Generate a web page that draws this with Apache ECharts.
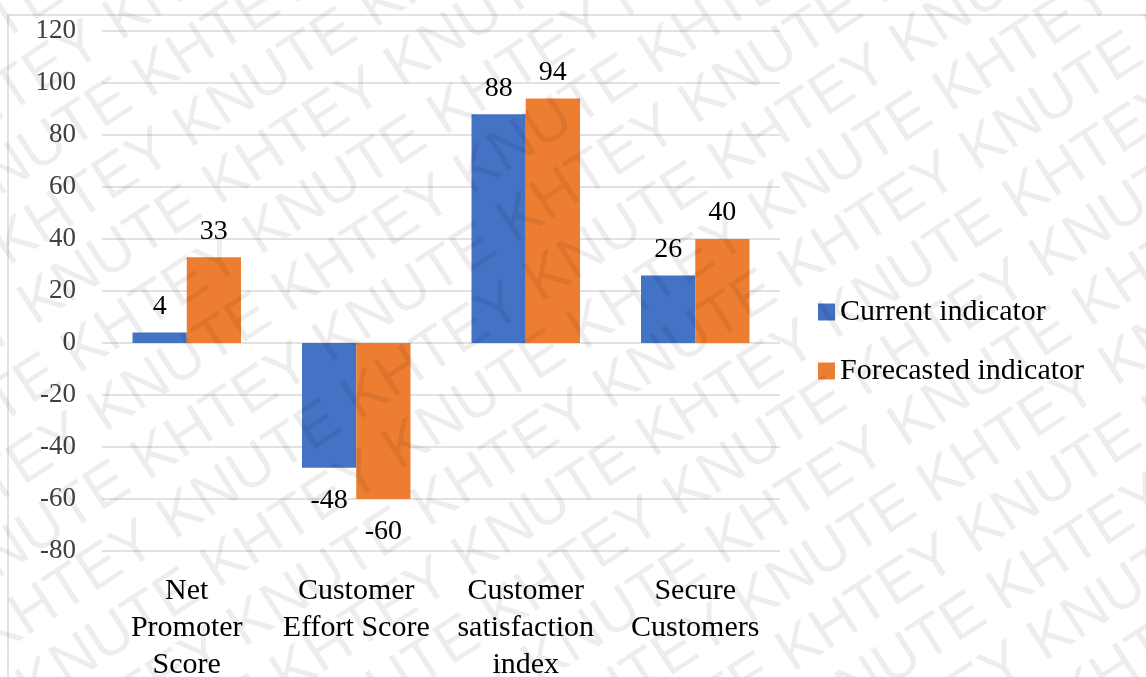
<!DOCTYPE html>
<html>
<head>
<meta charset="utf-8">
<title>Indicators</title>
<script src="https://cdn.jsdelivr.net/npm/echarts@6/dist/echarts.min.js"></script>
<style>
  html, body { margin: 0; padding: 0; background: #fff; }
  #chart { width: 1146px; height: 677px; }
</style>
</head>
<body>
<div id="chart"></div>
<script>
// data
var categories = ['Net\nPromoter\nScore', 'Customer\nEffort Score', 'Customer\nsatisfaction\nindex', 'Secure\nCustomers']
var currentValues = [4, -48, 88, 26]
var forecastValues = [33, -60, 94, 40]
var seriesNames = ['Current indicator', 'Forecasted indicator']
var yTicks = { min: -80, max: 120, step: 20 }

var serif = 'Liberation Serif'

// labels sit past the end of the bar, below it when the value is negative
function withLabels (values) {
  return values.map(function (v) {
    return {
      value: v,
      label: { position: v < 0 ? 'bottom' : 'top', distance: v < 0 ? 19 : 12 }
    }
  })
}

// faint diagonal watermark across the page
function watermark () {
  var els = []
  var ang = 33 * Math.PI / 180
  var dx = Math.cos(ang), dy = -Math.sin(ang) // along the text
  var nx = Math.sin(ang), ny = Math.cos(ang) // across the rows
  var txt = ''
  for (var r = 0; r < 7; r++) { txt += 'KNUTE KHTEY ' }
  for (var k = -12; k <= 12; k++) {
    var shift = (Math.abs(k) % 2) * 210
    els.push({
      type: 'text',
      x: 573 + k * 64 * nx + shift * dx,
      y: 338 + k * 64 * ny + shift * dy,
      rotation: ang,
      silent: true,
      z: 100,
      style: {
        text: txt,
        fill: 'rgba(0,0,0,0.07)',
        font: '60px Liberation Sans',
        align: 'center',
        verticalAlign: 'middle'
      }
    })
  }
  return els
}

var chart = echarts.init(document.getElementById('chart'))

var option = {
  backgroundColor: '#fff',
  animation: false,
  color: ['#4472C4', '#ED7D31'],
  grid: {
    left: 102,
    right: 366,
    top: 31,
    bottom: 126,
    containLabel: false,
    outerBoundsMode: 'none'
  },
  legend: {
    orient: 'vertical',
    left: 813,
    top: 292,
    itemWidth: 17,
    itemHeight: 17,
    itemGap: 29,
    icon: 'rect',
    data: seriesNames,
    textStyle: {
      fontFamily: serif,
      fontSize: 30,
      lineHeight: 30,
      color: '#000'
    }
  },
  xAxis: {
    type: 'category',
    data: categories,
    axisLine: { show: false },
    axisTick: { show: false },
    axisLabel: {
      interval: 0,
      margin: 22,
      fontFamily: serif,
      fontSize: 30,
      lineHeight: 37,
      color: '#000'
    }
  },
  yAxis: {
    type: 'value',
    min: yTicks.min,
    max: yTicks.max,
    interval: yTicks.step,
    axisLine: { show: false },
    axisTick: { show: false },
    axisLabel: {
      margin: 26,
      padding: [5, 0, 0, 0],
      fontFamily: serif,
      fontSize: 27,
      color: '#404040'
    },
    splitLine: {
      lineStyle: { color: '#d9d9d9', width: 1.5 }
    }
  },
  series: [
    {
      name: seriesNames[0],
      type: 'bar',
      barGap: '0%',
      barCategoryGap: '36%',
      data: withLabels(currentValues),
      label: {
        show: true,
        fontFamily: serif,
        fontSize: 28,
        color: '#000'
      }
    },
    {
      name: seriesNames[1],
      type: 'bar',
      barGap: '0%',
      barCategoryGap: '36%',
      data: withLabels(forecastValues),
      label: {
        show: true,
        fontFamily: serif,
        fontSize: 28,
        color: '#000'
      }
    }
  ],
  graphic: [
    {
      type: 'rect',
      silent: true,
      z: -1,
      shape: { x: 8, y: 15, width: 1160, height: 700 },
      style: { fill: 'none', stroke: '#d9d9d9', lineWidth: 1.5 }
    }
  ].concat(watermark())
}

chart.setOption(option)
</script>
</body>
</html>
